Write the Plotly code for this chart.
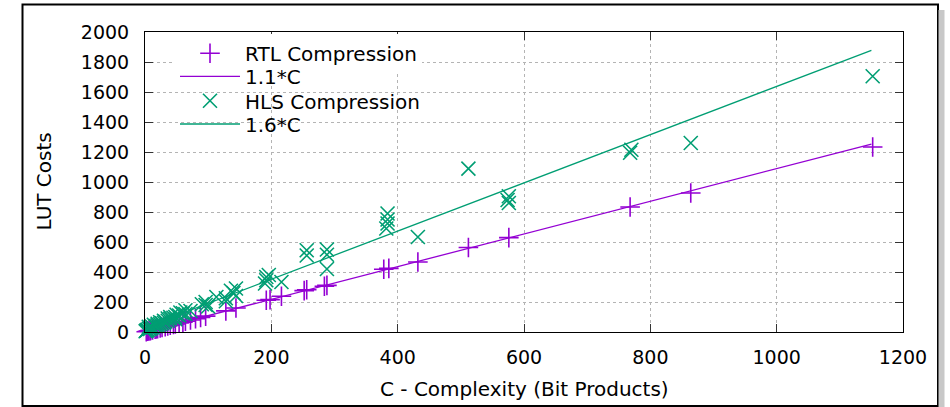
import plotly.graph_objects as go

# ---- data ----
rtl_c = [1152, 864, 768, 576, 512, 432, 386, 378, 288, 284, 256, 252, 216, 198, 192,
         144, 128, 96, 88, 80, 72, 64, 60, 54, 48, 45, 40, 36, 32, 27, 24, 20, 18,
         16, 12, 9, 8, 6, 4, 2]
rtl_lut = [1233, 927, 833, 629, 563, 467, 424, 418, 311, 305, 282, 276, 238, 216, 212,
           160, 141, 106, 97, 88, 80, 72, 66, 60, 53, 50, 45, 40, 36, 30, 27, 22, 20,
           18, 14, 10, 9, 7, 5, 2]

hls_c = [1152, 864, 770, 768, 512, 576, 576, 574, 432, 384, 384, 384, 382, 288, 288,
         288, 256, 256, 216, 196, 192, 192, 190, 144, 144, 140, 136, 128, 128, 113,
         100, 96, 96, 90, 72, 64, 64, 60, 56, 54, 50, 48, 48, 45, 40, 40, 36, 36, 32,
         30, 30, 27, 24, 24, 20, 20, 18, 16, 14, 12, 10, 9, 8, 6, 6, 4, 3, 2, 1]
hls_lut = [1705, 1260, 1215, 1195, 1089, 905, 860, 880, 633, 790, 750, 723, 690, 550,
           515, 420, 545, 510, 333, 380, 367, 345, 323, 290, 240, 260, 275, 225, 205,
           233, 170, 200, 180, 185, 140, 145, 120, 125, 130, 110, 115, 100, 85, 95, 88,
           100, 75, 90, 70, 62, 75, 58, 52, 65, 45, 55, 40, 38, 48, 30, 40, 28, 20, 22,
           35, 15, 12, 8, 5]

fit_c = [0, 1150]
rtl_fit = [0, 1253]
hls_fit = [30, 1878]

x_ticks = [0, 200, 400, 600, 800, 1000, 1200]
y_ticks = [0, 200, 400, 600, 800, 1000, 1200, 1400, 1600, 1800, 2000]

PURPLE = "#9400D3"
GREEN = "#009E73"
FONT = "DejaVu Sans"
FS_TICK = 19
FS_TEXT = 20

L, R, T, B = 145, 47, 32, 75
W, H = 950, 407
pw, ph = W - L - R, H - T - B


def px(xp):
    return (xp - L) / pw


def py(yp):
    return (H - B - yp) / ph


fig = go.Figure()
fig.add_trace(go.Scatter(
    x=rtl_c, y=rtl_lut, mode="markers", name="RTL Compression", cliponaxis=False,
    legend="legend",
    marker=dict(symbol="cross-thin", size=14, color=PURPLE,
                line=dict(color=PURPLE, width=1.6))))
fig.add_trace(go.Scatter(
    x=fit_c, y=rtl_fit, mode="lines", name="1.1*C", legend="legend2",
    line=dict(color=PURPLE, width=1.3)))
fig.add_trace(go.Scatter(
    x=hls_c, y=hls_lut, mode="markers", name="HLS Compression", cliponaxis=False,
    legend="legend3",
    marker=dict(symbol="x-thin", size=14, color=GREEN,
                line=dict(color=GREEN, width=1.6))))
fig.add_trace(go.Scatter(
    x=fit_c, y=hls_fit, mode="lines", name="1.6*C", legend="legend4",
    line=dict(color=GREEN, width=1.3)))

axis_common = dict(
    showline=True, linecolor="black", linewidth=1, mirror="ticks",
    ticks="inside", ticklen=8, tickwidth=1, tickcolor="#333",
    showgrid=True, gridcolor="#b4b4b4", griddash="dot", gridwidth=1,
    zeroline=False, tickfont=dict(family=FONT, size=FS_TICK, color="black"),
)


def leg(yc, bg):
    return dict(x=px(175), y=py(yc), xanchor="left", yanchor="middle",
                bgcolor=bg, borderwidth=0, itemwidth=60,
                font=dict(family=FONT, size=FS_TEXT, color="black"))


fig.update_layout(
    width=W, height=H,
    margin=dict(l=L, r=R, t=T, b=B),
    paper_bgcolor="white", plot_bgcolor="white",
    font=dict(family=FONT, size=FS_TEXT, color="black"),
    xaxis=dict(range=[0, 1200], tickvals=x_ticks, ticktext=[str(v) for v in x_ticks],
               ticklabelstandoff=8, **axis_common),
    yaxis=dict(range=[0, 2000], tickvals=y_ticks, ticktext=[str(v) for v in y_ticks],
               ticklabelstandoff=11, **axis_common),
    legend=leg(53.3, "white"),
    legend2=leg(76.3, "rgba(0,0,0,0)"),
    legend3=leg(100.7, "rgba(0,0,0,0)"),
    legend4=leg(124, "rgba(0,0,0,0)"),
    showlegend=True,
    modebar=dict(bgcolor="rgba(0,0,0,0)", color="rgba(0,0,0,0)",
                 activecolor="rgba(0,0,0,0)"),
    annotations=[
        dict(text="C - Complexity (Bit Products)", xref="paper", yref="paper",
             x=0.5, y=py(389), xanchor="center", yanchor="middle", showarrow=False,
             font=dict(family=FONT, size=FS_TEXT, color="black")),
        dict(text="LUT Costs", xref="paper", yref="paper", textangle=-90,
             x=px(43.5), y=0.5, xanchor="center", yanchor="middle", showarrow=False,
             font=dict(family=FONT, size=FS_TEXT, color="black")),
    ],
    shapes=[
        dict(type="line", xref="paper", yref="paper", x0=px(941.5), x1=px(941.5),
             y0=py(10), y1=py(407), line=dict(color="#c8c8c8", width=6)),
        dict(type="rect", xref="paper", yref="paper", x0=px(22.5), x1=px(938),
             y0=py(4.5), y1=py(406), line=dict(color="black", width=2),
             fillcolor="rgba(0,0,0,0)", layer="below"),
    ],
)

fig.write_html("out.html",
               post_script="document.body.style.margin='0';"
                           "document.body.style.padding='0';"
                           "document.querySelectorAll('.modebar-container')"
                           ".forEach(function(e){e.style.display='none';});")
